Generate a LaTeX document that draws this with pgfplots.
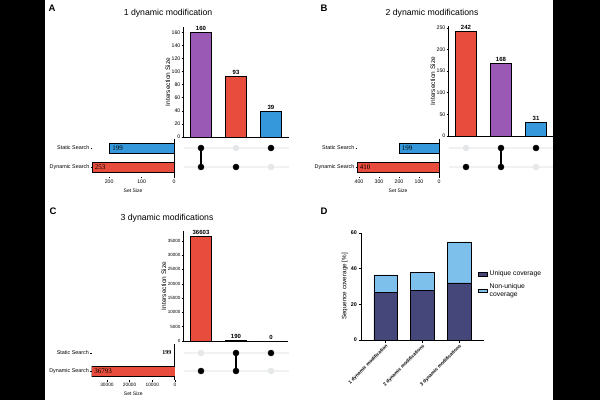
\documentclass[border=0pt]{standalone}
\usepackage{pgfplots}
\pgfplotsset{compat=1.18}
\usepackage{fontspec}
\setmainfont{Liberation Sans}
\newfontfamily\numfont{Liberation Serif}

\definecolor{setred}{HTML}{E74C3C}
\definecolor{setpurple}{HTML}{9B59B6}
\definecolor{setblue}{HTML}{3498DB}
\definecolor{dotgray}{HTML}{E5E7E9}
\definecolor{rowgray}{HTML}{F0F1F2}
\definecolor{uniq}{HTML}{45467A}
\definecolor{nonuniq}{HTML}{7CC0EB}

\newcommand{\fsz}[1]{\fontsize{#1}{#1}\selectfont}

\pgfplotsset{
  interbars/.style={
    scale only axis, width=105pt, height=110pt, anchor=south west,
    xmin=0.5, xmax=3.5, ymin=0,
    axis x line*=bottom, axis y line*=left,
    axis line style={-, line width=0.8pt, black},
    xtick=\empty, tick align=outside, major tick length=2pt,
    ytick style={black, line width=0.5pt},
    yticklabel style={font=\fsz{5.2}, inner sep=1pt},
    ylabel={Intersection Size},
    ylabel style={font=\fsz{6.5}, yshift=-3pt},
    /pgf/number format/assume math mode=true,
    /pgf/number format/set thousands separator={},
    scaled y ticks=false,
    ybar, bar width=21pt, bar shift=0pt,
    nodes near coords,
    every node near coord/.append style={font=\bfseries\fsz{6}, black, inner sep=1.5pt},
  },
  barstyle/.style={draw=black, line width=0.5pt, fill=#1},
  matrixaxis/.style={
    scale only axis, width=105pt, height=38pt, anchor=south west,
    xmin=0.5, xmax=3.5, ymin=0.5, ymax=2.5,
    hide axis, clip=false,
  },
  rowline/.style={rowgray, line width=1.6pt},
  offdot/.style={only marks, mark=*, mark size=3pt, color=dotgray},
  ondot/.style={only marks, mark=*, mark size=3pt, color=black},
  link/.style={black, line width=1.6pt},
  setsize/.style={
    scale only axis, width=82pt, height=38pt, anchor=south west,
    ymin=0.5, ymax=2.5, xmax=0,
    axis line style={draw=none},
    tick pos=left, tick align=outside, major tick length=1.5pt,
    tick style={black, line width=0.4pt},
    ytick={1,2}, yticklabels={Dynamic Search, Static Search},
    yticklabel style={font=\fsz{5.4}, inner sep=1pt},
    xticklabel style={font=\fsz{5.2}, inner sep=1.5pt},
    xlabel={Set Size}, xlabel style={font=\fsz{5}, inner sep=1pt},
    /pgf/number format/assume math mode=true,
    /pgf/number format/set thousands separator={},
    scaled x ticks=false,
    extra x ticks={0}, extra x tick labels={},
    extra x tick style={grid=major, major grid style={black, line width=1pt}, tick style={draw=none}},
    xbar, bar width=10pt, bar shift=0pt,
    point meta=explicit symbolic,
    nodes near coords,
    every node near coord/.append style={anchor=west, font=\numfont\fsz{7}, black, inner sep=1pt, xshift=1.5pt},
  },
}

\begin{document}
\begin{tikzpicture}
\fill[white] (0pt,0pt) rectangle (600pt,400pt);

% ---------------- A: 1 dynamic modification ----------------
\node[font=\bfseries\fsz{9.5}] at (52pt,392pt) {A};
\node[font=\fsz{8.7}] at (168pt,387pt) {1 dynamic modification};

\begin{axis}[interbars, at={(183.5pt,263pt)}, ymax=168, ytick={0,20,...,160}]
\addplot[barstyle=setpurple] coordinates {(1,160)};
\addplot[barstyle=setred] coordinates {(2,93)};
\addplot[barstyle=setblue] coordinates {(3,39)};
\end{axis}

\begin{axis}[matrixaxis, at={(183.5pt,223.5pt)}]
\addplot[rowline] coordinates {(0.5,1) (3.5,1)};
\addplot[rowline] coordinates {(0.5,2) (3.5,2)};
\addplot[offdot] coordinates {(2,2) (3,1)};
\addplot[link] coordinates {(1,1) (1,2)};
\addplot[ondot] coordinates {(1,1) (1,2) (2,1) (3,2)};
\end{axis}

\begin{axis}[setsize, at={(92pt,223.5pt)}, xmin=-253,
  xtick={-200,-100,0}, xticklabels={200,100,0}]
\addplot[barstyle=setblue] coordinates {(-199,2) [199]};
\addplot[barstyle=setred] coordinates {(-253,1) [253]};
\end{axis}

% ---------------- B: 2 dynamic modifications ----------------
\node[font=\bfseries\fsz{9.5}] at (324pt,392pt) {B};
\node[font=\fsz{8.7}] at (432pt,387pt) {2 dynamic modifications};

\begin{axis}[interbars, at={(448.5pt,264pt)}, ymax=254.1, ytick={0,50,...,250}]
\addplot[barstyle=setred] coordinates {(1,242)};
\addplot[barstyle=setpurple] coordinates {(2,168)};
\addplot[barstyle=setblue] coordinates {(3,31)};
\end{axis}

\begin{axis}[matrixaxis, at={(448.5pt,223.5pt)}]
\addplot[rowline] coordinates {(0.5,1) (3.5,1)};
\addplot[rowline] coordinates {(0.5,2) (3.5,2)};
\addplot[offdot] coordinates {(1,2) (3,1)};
\addplot[link] coordinates {(2,1) (2,2)};
\addplot[ondot] coordinates {(1,1) (2,1) (2,2) (3,2)};
\end{axis}

\begin{axis}[setsize, at={(357pt,223.5pt)}, xmin=-410,
  xtick={-400,-300,-200,-100,0}, xticklabels={400,300,200,100,0}]
\addplot[barstyle=setblue] coordinates {(-199,2) [199]};
\addplot[barstyle=setred] coordinates {(-410,1) [410]};
\end{axis}

% ---------------- C: 3 dynamic modifications ----------------
\node[font=\bfseries\fsz{9.5}] at (53pt,189pt) {C};
\node[font=\fsz{8.7}] at (167pt,182pt) {3 dynamic modifications};

\begin{axis}[interbars, at={(183.5pt,59pt)}, ymax=38433,
  ytick={0,5000,...,35000}, yticklabel style={font=\fsz{4.5}}]
\addplot[barstyle=setred] coordinates {(1,36603)};
\addplot[barstyle=setpurple] coordinates {(2,190)};
\addplot[barstyle=setblue] coordinates {(3,0)};
\end{axis}

\begin{axis}[matrixaxis, at={(183.5pt,20pt)}, height=36pt]
\addplot[rowline] coordinates {(0.5,1) (3.5,1)};
\addplot[rowline] coordinates {(0.5,2) (3.5,2)};
\addplot[offdot] coordinates {(1,2) (3,1)};
\addplot[link] coordinates {(2,1) (2,2)};
\addplot[ondot] coordinates {(1,1) (2,1) (2,2) (3,2)};
\end{axis}

\begin{axis}[setsize, at={(91.6pt,20pt)}, width=83.4pt, height=36pt, xmin=-36793,
  xtick={-30000,-20000,-10000,0}, xticklabels={30000,20000,10000,0},
  xticklabel style={font=\fsz{4.8}}]
\addplot[barstyle=setblue,
  every node near coord/.append style={anchor=east, xshift=-3.5pt, font=\bfseries\numfont\fsz{6}}] coordinates {(-199,2) [199]};
\addplot[barstyle=setred] coordinates {(-36793,1) [36793]};
\end{axis}

% ---------------- D: sequence coverage ----------------
\node[font=\bfseries\fsz{9.5}] at (324pt,189pt) {D};

\begin{axis}[scale only axis, width=123pt, height=107pt, anchor=south west, at={(361pt,60pt)},
  xmin=0.333, xmax=3.68, ymin=0, ymax=60,
  axis x line*=bottom, axis y line*=left, axis line style={-, line width=0.8pt, black},
  ybar stacked, bar width=23.5pt,
  xtick={1,2,3},
  xticklabels={1 dynamic modification, 2 dynamic modifications, 3 dynamic modifications},
  xticklabel style={rotate=45, anchor=north east, font=\bfseries\fsz{4.8}, inner sep=1pt},
  ytick={0,20,40,60}, yticklabel style={font=\bfseries\fsz{5.4}, inner sep=1.5pt},
  /pgf/number format/assume math mode=true,
  tick align=outside, major tick length=2.5pt, tick style={black, line width=0.6pt},
  ylabel={Sequence coverage [\%]}, ylabel style={font=\fsz{6.3}, yshift=-2pt},
  legend style={at={(0.951,0.665)}, anchor=north west, draw=none, fill=none,
    font=\fsz{6.8}, row sep=2pt, inner sep=0pt},
  legend cell align=left,
  legend image code/.code={\draw[#1, line width=0.5pt] (0pt,-1.7pt) rectangle (9pt,1.7pt);},
]
\addplot[fill=uniq, draw=black, line width=0.5pt] coordinates {(1,26.5) (2,28) (3,32)};
\addplot[fill=nonuniq, draw=black, line width=0.5pt] coordinates {(1,10) (2,10) (3,23)};
\legend{Unique coverage, {\shortstack[l]{Non-unique\\coverage}}}
\end{axis}

% side margins
\fill[black] (0pt,0pt) rectangle (45pt,400pt);
\fill[black] (553pt,0pt) rectangle (600pt,400pt);

\pgfresetboundingbox
\path[use as bounding box] (0pt,0pt) rectangle (600pt,400pt);
\end{tikzpicture}
\end{document}
